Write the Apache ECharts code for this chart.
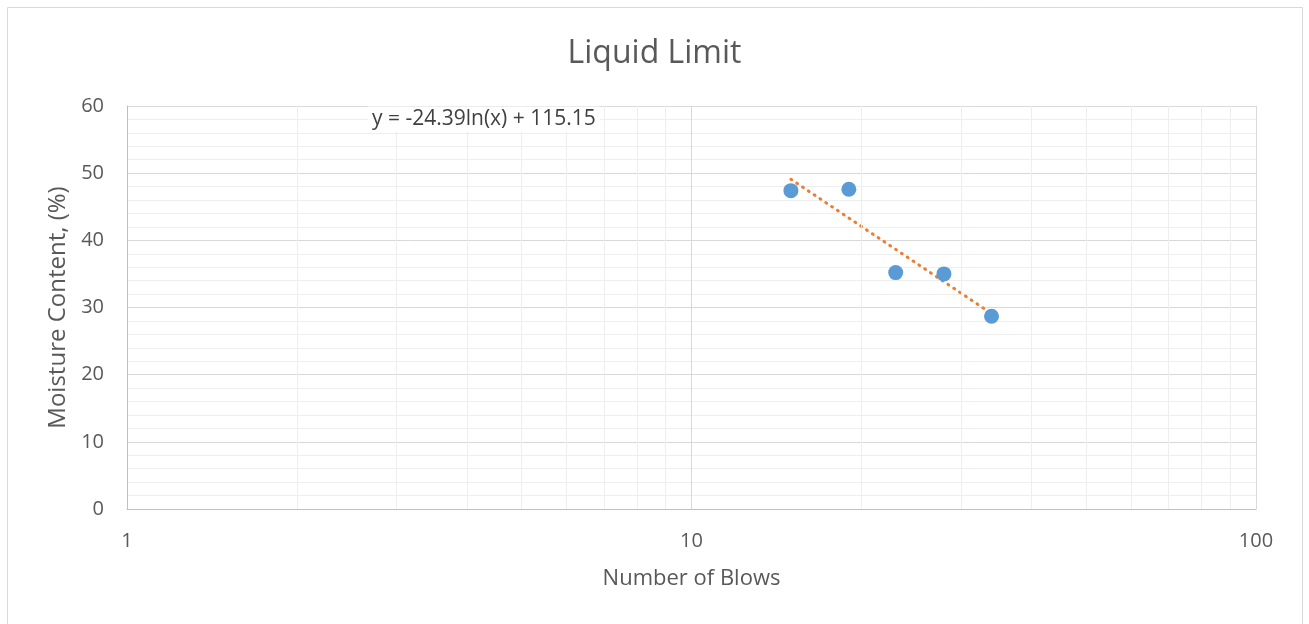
<!DOCTYPE html>
<html>
<head>
<meta charset="utf-8">
<script src="https://cdn.jsdelivr.net/npm/echarts@6/dist/echarts.min.js"></script>
<style>
  html, body { margin: 0; padding: 0; background: #fff; }
  #main { width: 1309px; height: 624px; }
</style>
</head>
<body>
<div id="main"></div>
<script>
// 数据：击数 / 含水率
const blows = [15, 19, 23, 28, 34];
const moisture = [47.4, 47.6, 35.2, 35.0, 28.7];
// 趋势线两端
const trendX = [15, 34];
const trendY = [49.1, 29.1];
// x 轴次网格线
const minorX = [2, 3, 4, 5, 6, 7, 8, 9, 20, 30, 40, 50, 60, 70, 80, 90];
const equation = 'y = -24.39ln(x) + 115.15';

const font = "'Open Sans', 'Noto Sans', sans-serif";

let chart = echarts.init(document.getElementById('main'));

const option = {
  animation: false,
  title: {
    text: 'Liquid Limit',
    left: 'center',
    top: 33,
    textStyle: { color: '#595959', fontSize: 32, fontWeight: 'normal', fontFamily: font }
  },
  grid: { left: 127, top: 106, right: 53, bottom: 115 },
  xAxis: {
    type: 'log',
    logBase: 10,
    min: 1,
    max: 100,
    name: 'Number of Blows',
    nameLocation: 'middle',
    nameGap: 59,
    nameTextStyle: { color: '#595959', fontSize: 22, fontFamily: font },
    axisLine: { lineStyle: { color: '#bfbfbf', width: 1 } },
    axisTick: { show: false },
    axisLabel: { color: '#595959', fontSize: 20, fontFamily: font, margin: 22 },
    splitLine: { show: true, lineStyle: { color: '#d9d9d9', width: 1 } }
  },
  yAxis: {
    type: 'value',
    min: 0,
    max: 60,
    interval: 10,
    name: 'Moisture Content, (%)',
    nameLocation: 'middle',
    nameGap: 50,
    nameTextStyle: { color: '#595959', fontSize: 24, fontFamily: font },
    axisLine: { show: true, lineStyle: { color: '#bfbfbf', width: 1 } },
    axisTick: { show: false },
    axisLabel: { color: '#595959', fontSize: 20, fontFamily: font, margin: 23 },
    splitLine: { show: true, lineStyle: { color: '#d9d9d9', width: 1 } },
    minorTick: { show: false, splitNumber: 5 },
    minorSplitLine: { show: true, lineStyle: { color: '#eeeeee', width: 1 } }
  },
  graphic: [
    {
      type: 'rect',
      silent: true,
      shape: { x: 7.5, y: 7.5, width: 1295, height: 640 },
      style: { fill: null, stroke: '#d9d9d9', lineWidth: 1 }
    },
    {
      type: 'text',
      x: 368,
      y: 119,
      z: 10,
      style: {
        text: equation, fill: '#404040', fontSize: 21, fontFamily: font,
        textAlign: 'left', textVerticalAlign: 'middle',
        backgroundColor: '#ffffff', padding: [2, 4, 2, 4]
      }
    }
  ],
  series: [
    {
      // 次网格线
      type: 'line',
      data: [],
      silent: true,
      z: 1,
      markLine: {
        silent: true,
        symbol: 'none',
        label: { show: false },
        lineStyle: { color: '#eeeeee', type: 'solid', width: 1 },
        data: minorX.map(v => ({ xAxis: v }))
      }
    },
    {
      name: 'Trend',
      type: 'line',
      data: trendX.map((x, i) => [x, trendY[i]]),
      showSymbol: false,
      z: 3,
      lineStyle: { color: '#ed7d31', width: 3, type: [1, 6], cap: 'round' }
    },
    {
      name: 'Data',
      type: 'scatter',
      data: blows.map((x, i) => [x, moisture[i]]),
      symbolSize: 15,
      z: 4,
      itemStyle: { color: '#5b9bd5', opacity: 1 }
    }
  ]
};

chart.setOption(option);
</script>
</body>
</html>
